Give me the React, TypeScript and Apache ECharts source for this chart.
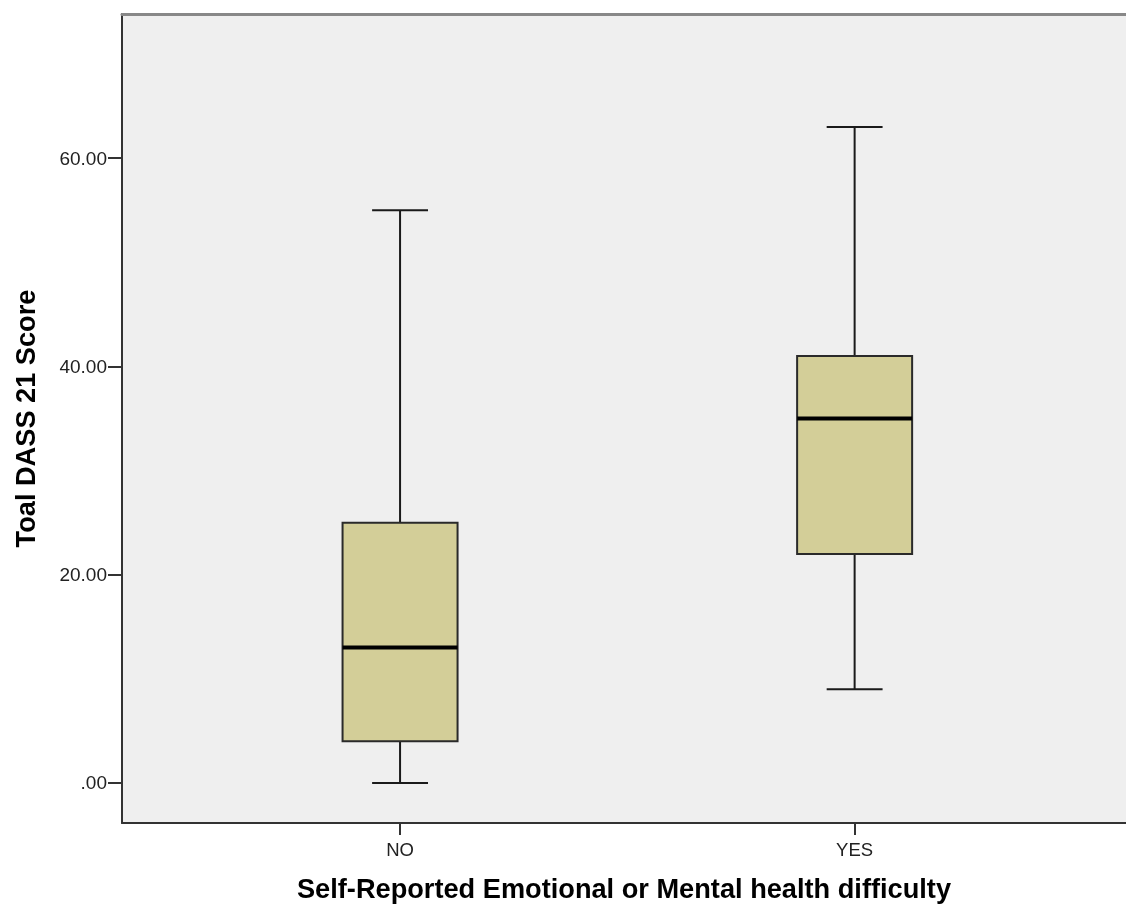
import React, { useEffect, useRef } from "react";
import * as echarts from "echarts";

const categories = ["NO", "YES"];
// [min, Q1, median, Q3, max]
const boxValues = [
  [0, 4, 13, 25, 55],
  [9, 22, 35, 41, 63],
];
const yTicks = [0, 20, 40, 60];
const xTitle = "Self-Reported Emotional or Mental health difficulty";
const yTitle = "Toal DASS 21 Score";

const FONT = "'Liberation Sans', Arial, sans-serif";

export default function App() {
  const ref = useRef<HTMLDivElement>(null);
  useEffect(() => {
    if (!ref.current) return;
    const chart = echarts.init(ref.current, null, { renderer: "svg" });
    const data = boxValues.map((v, i) => [i, ...v]);
    const boxW = 0.253;
    const capW = 0.123;
    chart.setOption({
      animation: false,
      grid: {
        left: 122,
        top: 14,
        right: 0,
        bottom: 82,
        show: true,
        backgroundColor: "#efefef",
        borderWidth: 0,
      },
      xAxis: [
        {
          type: "value",
          min: -0.6117,
          max: 1.597,
          splitLine: { show: false },
          axisLine: { show: true, onZero: false, lineStyle: { color: "#333", width: 2 } },
          axisTick: {
            show: true,
            customValues: [0, 1],
            length: 12,
            lineStyle: { color: "#333", width: 2 },
          },
          axisLabel: {
            customValues: [0, 1],
            formatter: (v: number) => categories[Math.round(v)] ?? "",
            fontFamily: FONT,
            fontSize: 18.5,
            color: "#222",
            margin: 17,
          },
          name: xTitle,
          nameLocation: "middle",
          nameGap: 52,
          nameTextStyle: {
            fontFamily: FONT,
            fontSize: 27.2,
            fontWeight: "bold",
            color: "#000",
          },
        },
        {
          type: "value",
          position: "top",
          min: -0.6117,
          max: 1.597,
          splitLine: { show: false },
          axisLine: { show: true, onZero: false, lineStyle: { color: "#888", width: 3 } },
          axisTick: { show: false },
          axisLabel: { show: false },
        },
      ],
      yAxis: {
        type: "value",
        min: -3.846,
        max: 73.85,
        splitLine: { show: false },
        axisLine: { show: true, onZero: false, lineStyle: { color: "#333", width: 2 } },
        axisTick: {
          show: true,
          customValues: yTicks,
          length: 14,
          lineStyle: { color: "#333", width: 2 },
        },
        axisLabel: {
          customValues: yTicks,
          formatter: (v: number) => (v === 0 ? ".00" : v.toFixed(2)),
          fontFamily: FONT,
          fontSize: 19,
          color: "#222",
          margin: 15,
        },
        name: yTitle,
        nameLocation: "middle",
        nameRotate: 90,
        nameGap: 83,
        nameTextStyle: {
          fontFamily: FONT,
          fontSize: 27.2,
          fontWeight: "bold",
          color: "#000",
        },
      },
      series: [
        {
          type: "custom",
          xAxisIndex: 0,
          yAxisIndex: 0,
          data,
          encode: { x: 0, y: [1, 2, 3, 4, 5] },
          renderItem: (params: any, api: any) => {
            const x = api.value(0);
            const mn = api.coord([x, api.value(1)]);
            const q1 = api.coord([x, api.value(2)]);
            const md = api.coord([x, api.value(3)]);
            const q3 = api.coord([x, api.value(4)]);
            const mx = api.coord([x, api.value(5)]);
            const bw = api.size([boxW, 0])[0];
            const cw = api.size([capW, 0])[0];
            const cx = mn[0];
            const lineStyle = { stroke: "#1a1a1a", lineWidth: 2 };
            return {
              type: "group",
              children: [
                {
                  type: "line",
                  shape: { x1: cx, y1: mn[1], x2: cx, y2: q1[1] },
                  style: lineStyle,
                },
                {
                  type: "line",
                  shape: { x1: cx, y1: q3[1], x2: cx, y2: mx[1] },
                  style: lineStyle,
                },
                {
                  type: "line",
                  shape: { x1: cx - cw / 2, y1: mn[1], x2: cx + cw / 2, y2: mn[1] },
                  style: lineStyle,
                },
                {
                  type: "line",
                  shape: { x1: cx - cw / 2, y1: mx[1], x2: cx + cw / 2, y2: mx[1] },
                  style: lineStyle,
                },
                {
                  type: "rect",
                  shape: { x: cx - bw / 2, y: q3[1], width: bw, height: q1[1] - q3[1] },
                  style: { fill: "#d3ce98", stroke: "#2a2a2a", lineWidth: 2 },
                },
                {
                  type: "line",
                  shape: { x1: cx - bw / 2, y1: md[1], x2: cx + bw / 2, y2: md[1] },
                  style: { stroke: "#000", lineWidth: 4 },
                },
              ],
            };
          },
        },
      ],
    });
    return () => chart.dispose();
  }, []);
  return (
    <div
      ref={ref}
      style={{ position: "fixed", left: 0, top: 0, width: 1126, height: 907 }}
    />
  );
}
